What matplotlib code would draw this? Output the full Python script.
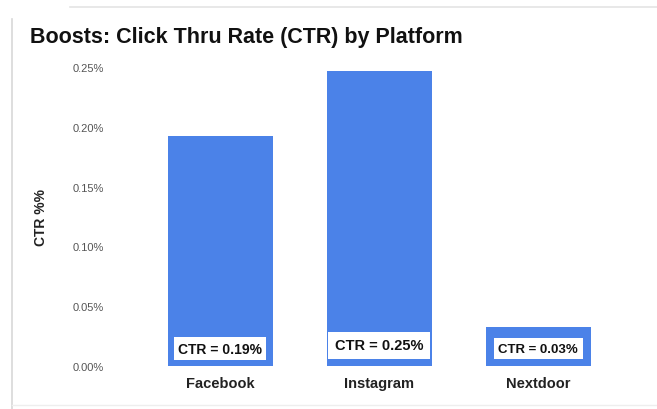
import matplotlib
matplotlib.use("Agg")
import matplotlib.pyplot as plt
from matplotlib.lines import Line2D

platforms = ["Facebook", "Instagram", "Nextdoor"]
ctr = [0.192, 0.247, 0.033]
labels = ["CTR = 0.19%", "CTR = 0.25%", "CTR = 0.03%"]
yticks = [0.0, 0.05, 0.10, 0.15, 0.20, 0.25]
ytick_labels = ["0.00%", "0.05%", "0.10%", "0.15%", "0.20%", "0.25%"]

plt.rcParams['font.family'] = ['Liberation Sans', 'DejaVu Sans']

W, H = 657, 410
fig = plt.figure(figsize=(W/100, H/100), dpi=100)
fig.patch.set_facecolor('white')

# card border
fig.add_artist(Line2D([12/W, 12/W], [0, 1-20/H], color='#d8d8d8', lw=1.2, transform=fig.transFigure))
fig.add_artist(Line2D([70/W, 1], [1-8/H, 1-8/H], color='#e4e4e4', lw=1.2, transform=fig.transFigure))
fig.add_artist(Line2D([12/W, 1], [4/H, 4/H], color='#eeeeee', lw=1.0, transform=fig.transFigure))

left, right = 115/W, 640/W
bottom, top = (H-367)/H, (H-68)/H
ax = fig.add_axes([left, bottom, right-left, top-bottom])

x = list(range(len(platforms)))
ax.bar(x, ctr, width=0.66, color='#4b82e8', zorder=2)
ax.set_xlim(-0.66, 2.64)
ax.set_ylim(0, 0.25)
ax.set_yticks(yticks)
ax.set_yticklabels(ytick_labels, fontsize=8, color='#555555')
ax.set_xticks(x)
ax.set_xticklabels(platforms, fontsize=10.5, fontweight='bold', color='#222222')
ax.tick_params(axis='both', length=0)
ax.tick_params(axis='y', pad=8)
ax.tick_params(axis='x', pad=7)
for s in ax.spines.values():
    s.set_visible(False)

label_y = [0.0145, 0.0175, 0.0145]
label_fs = [10, 10.5, 9.5]
label_pad = [0.3, 0.45, 0.35]
for xi, ly, t, fs, pd in zip(x, label_y, labels, label_fs, label_pad):
    ax.text(xi, ly, t, ha='center', va='center', fontsize=fs, fontweight='bold',
            color='#111111',
            bbox=dict(boxstyle=f'square,pad={pd}', fc='white', ec='none'), zorder=3)

ax.set_ylabel("CTR %%", fontsize=10, fontweight='bold', color='#222222', labelpad=18)

fig.text(30/W, 1-37/H, "Boosts: Click Thru Rate (CTR) by Platform", fontsize=15.5,
         fontweight='bold', color='#111111', va='center', ha='left')

fig.savefig("out.png", dpi=100, facecolor='white')
